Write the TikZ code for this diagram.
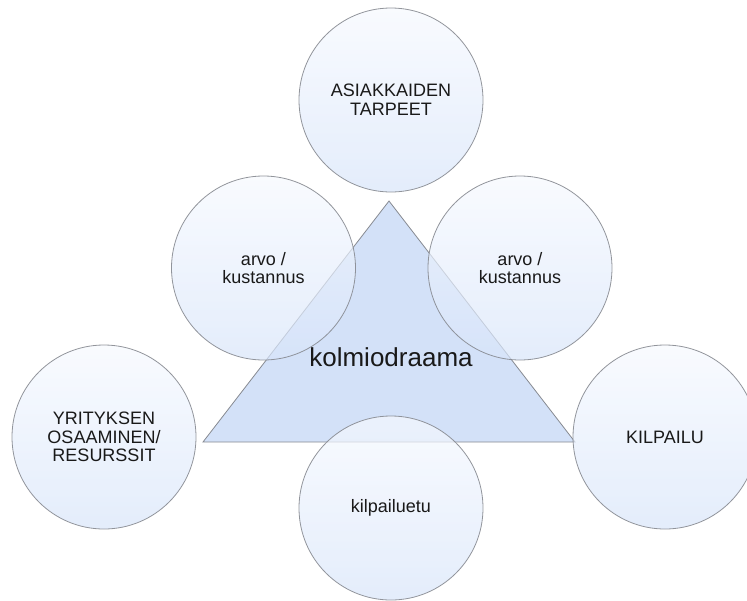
\documentclass[tikz,border=0pt]{standalone}
\usepackage{fontspec}
\setmainfont{Liberation Sans}
\definecolor{bubtop}{RGB}{246,249,254}
\definecolor{bubbot}{RGB}{216,229,250}
\definecolor{trifill}{RGB}{211,225,248}
\definecolor{edgegray}{RGB}{135,138,145}
\begin{document}
\begin{tikzpicture}[x=1pt,y=-1pt,
  bub/.style={circle, minimum size=184pt, inner sep=0pt,
    draw=edgegray, line width=0.8pt, draw opacity=0.9,
    top color=bubtop, bottom color=bubbot, fill opacity=0.7, text opacity=1,
    align=center, text=black!90, font=\fontsize{18}{18.6}\selectfont},
  tri/.style={draw=edgegray, line width=0.8pt, fill=trifill},
  big/.style={font=\fontsize{26}{30}\selectfont, text=black!90}]
\useasboundingbox (0,0) rectangle (747,600);
\clip (0,0) rectangle (747,600);
\coordinate (ta) at (389,201);
\coordinate (tl) at (203,442);
\coordinate (tr) at (575,442);
\draw[tri] (ta) -- (tl) -- (tr) -- cycle;
\node[big] (kd) at (391,357) {kolmiodraama};
\node[bub] (top) at (391,100) {ASIAKKAIDEN\\TARPEET};
\node[bub] (ml) at (263.5,268) {arvo /\\kustannus};
\node[bub] (mr) at (520,268) {arvo /\\kustannus};
\node[bub] (le) at (104,437) {YRITYKSEN\\OSAAMINEN/\\RESURSSIT};
\node[bub] (ri) at (665,437) {KILPAILU};
\node[bub] (bo) at (391,508) {kilpailuetu};
\end{tikzpicture}
\end{document}
